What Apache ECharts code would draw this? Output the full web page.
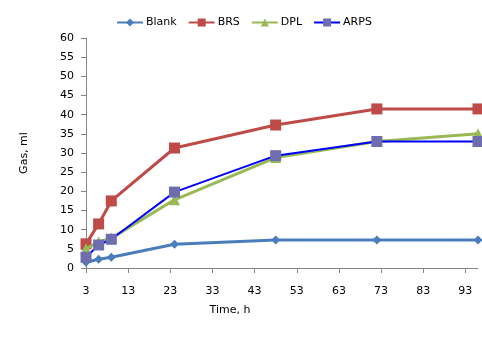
<!DOCTYPE html>
<html><head><meta charset="utf-8">
<script src="https://cdn.jsdelivr.net/npm/echarts@6/dist/echarts.min.js"></script>
<style>html,body{margin:0;padding:0;background:#fff}#c{width:482px;height:356px}</style>
</head><body><div id="c"></div>
<script>
var times = [3, 6, 9, 24, 48, 72, 96];
var blank = [1.5, 2.3, 2.8, 6.2, 7.3, 7.3, 7.3];
var brs = [6.3, 11.5, 17.5, 31.3, 37.3, 41.5, 41.5];
var dpl = [5.0, 6.8, 7.8, 17.8, 28.8, 33.0, 35.0];
var arps = [2.8, 6.0, 7.5, 19.8, 29.3, 33.0, 33.0];
var xStart = 3, xEnd = 96;
var FONT = 'DejaVu Sans';

function pts(vals){ return times.map(function(t,i){ return [t - xStart, vals[i]]; }); }

var chart = echarts.init(document.getElementById('c'), null, {renderer:'canvas'});
chart.setOption({
  animation:false,
  textStyle:{fontFamily:FONT},
  legend:{
    top:12, left:116, padding:[5,0,5,0], itemWidth:26, itemHeight:10, itemGap:11,
    textStyle:{fontSize:11, color:'#000', fontFamily:FONT, padding:[0,0,0,-2]},
    data:['Blank','BRS','DPL','ARPS']
  },
  grid:{left:86, right:4, top:38, bottom:88, containLabel:false},
  xAxis:{
    type:'value', min:0, max:xEnd - xStart, interval:10,
    name:'Time, h', nameLocation:'middle', nameGap:37,
    nameTextStyle:{fontSize:11, color:'#000', fontFamily:FONT, padding:[0,104,0,0]},
    axisLine:{lineStyle:{color:'#868686'}},
    axisTick:{show:true, length:5, lineStyle:{color:'#868686'}},
    axisLabel:{fontSize:11, color:'#000', margin:18, fontFamily:FONT,
      formatter:function(v){ return String(v + xStart); }},
    splitLine:{show:false}
  },
  yAxis:{
    type:'value', min:0, max:60, interval:5,
    name:'Gas, ml', nameLocation:'middle', nameGap:56, nameRotate:90,
    nameTextStyle:{fontSize:11, color:'#000', fontFamily:FONT},
    axisLine:{show:true, lineStyle:{color:'#868686'}},
    axisTick:{show:true, length:5, lineStyle:{color:'#868686'}},
    axisLabel:{fontSize:11, color:'#000', margin:12, fontFamily:FONT},
    splitLine:{show:false}
  },
  series:[
    {name:'Blank', type:'line', data:pts(blank), symbol:'diamond', symbolSize:9,
     lineStyle:{width:3, color:'#4A7EBB'}, itemStyle:{color:'#4A7EBB'}, z:2},
    {name:'BRS', type:'line', data:pts(brs), symbol:'rect', symbolSize:11,
     lineStyle:{width:3, color:'#BE4B48'}, itemStyle:{color:'#BE4B48'}, z:3},
    {name:'DPL', type:'line', data:pts(dpl), symbol:'triangle', symbolSize:11,
     lineStyle:{width:3, color:'#98B954'}, itemStyle:{color:'#98B954'}, z:4},
    {name:'ARPS', type:'line', data:pts(arps), symbol:'rect', symbolSize:11,
     lineStyle:{width:2, color:'#0000FF'}, itemStyle:{color:'#6E6EAE'}, z:5}
  ]
});
</script></body></html>
